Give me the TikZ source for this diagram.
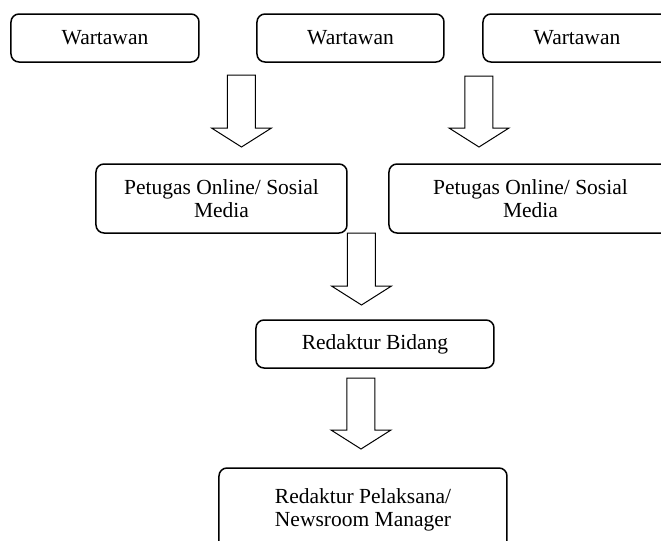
\documentclass[tikz,border=0pt]{standalone}
\usepackage{fontspec}
\setmainfont{Liberation Serif}
\usetikzlibrary{calc}

% hollow block arrow from a top point down to a tip
\newcommand{\hollowarrow}[2]{%
  \draw[fatarrow] ($(#1)+(-14,0)$) -- ($(#2)+(-14,-19)$) -- ($(#2)+(-30,-19)$) -- (#2)
    -- ($(#2)+(30,-19)$) -- ($(#2)+(14,-19)$) -- ($(#1)+(14,0)$) -- cycle;}

\begin{document}
\begin{tikzpicture}[
  x=0.5pt, y=-0.5pt,
  font=\fontsize{10.75}{11.5}\selectfont,
  box/.style={draw, line width=0.75pt, rounded corners=4pt, align=center, inner sep=0pt, minimum height=24pt},
  fatarrow/.style={draw, line width=0.5pt, line join=miter, fill=white}
]
\path[use as bounding box, fill=white] (0,0) rectangle (661,541);
\clip (0,0) rectangle (661,541);

\node[box, minimum width=94pt] (wA) at (105,38) {Wartawan};
\node[box, minimum width=93.5pt] (wB) at (350.5,38) {Wartawan};
\node[box, minimum width=94pt] (wC) at (577,38) {Wartawan};

\node[box, minimum width=125.5pt, minimum height=34.5pt] (pA) at (221.5,198.5) {Petugas Online/ Sosial\\Media};
\node[box, minimum width=141.5pt, minimum height=34.5pt] (pB) at (530.5,198.5) {Petugas Online/ Sosial\\Media};

\node[box, minimum width=119pt] (rB) at (375,344) {Redaktur Bidang};
\node[box, minimum width=144pt, minimum height=42pt] (rP) at (363,510) {Redaktur Pelaksana/\\Newsroom Manager};

\coordinate (a1top) at (241.5,75);
\coordinate (a1tip) at (241.5,147);
\coordinate (a2top) at (479,76);
\coordinate (a2tip) at (479,147);
\coordinate (a3top) at (361.5,233);
\coordinate (a3tip) at (361.5,305);
\coordinate (a4top) at (361,378);
\coordinate (a4tip) at (361,449);

\hollowarrow{a1top}{a1tip}
\hollowarrow{a2top}{a2tip}
\hollowarrow{a3top}{a3tip}
\hollowarrow{a4top}{a4tip}
\end{tikzpicture}
\end{document}
